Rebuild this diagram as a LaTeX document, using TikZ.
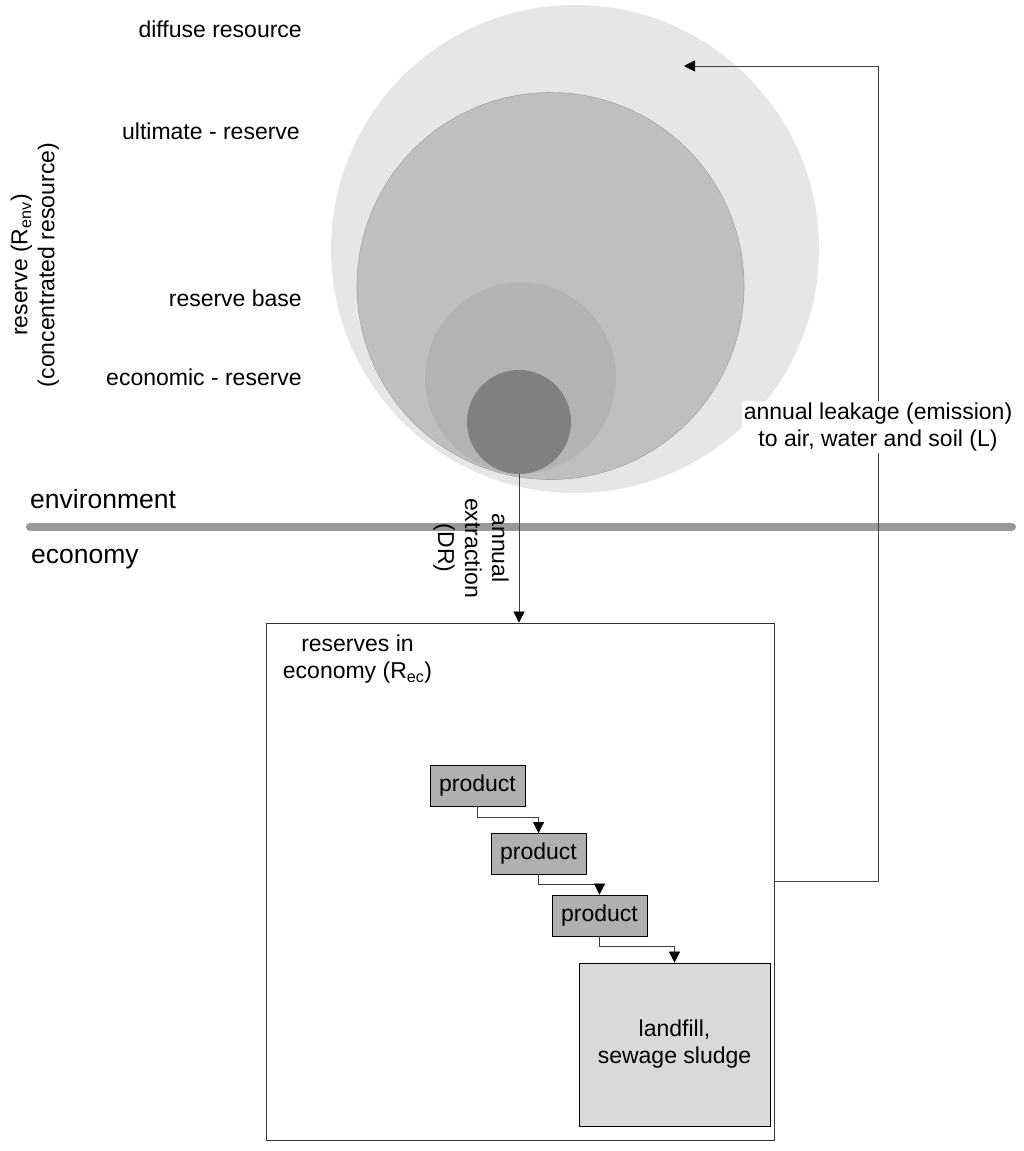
\documentclass[tikz,border=0pt]{standalone}
\usepackage{fontspec}
\setmainfont{Liberation Sans}
\usetikzlibrary{arrows.meta}
\newcommand{\fnorm}{\fontsize{23}{27}\selectfont}
\newcommand{\fbig}{\fontsize{26.5}{30}\selectfont}
\definecolor{diffc}{HTML}{E6E6E6}
\definecolor{ultc}{HTML}{BFBFBF}
\definecolor{basec}{HTML}{B3B3B3}
\definecolor{econc}{HTML}{808080}
\definecolor{prodc}{HTML}{B0B0B0}
\definecolor{landc}{HTML}{D9D9D9}
\definecolor{linec}{HTML}{999999}
\tikzset{
  every node/.style={font=\fnorm, inner sep=0pt},
  ring/.style={circle, inner sep=0pt, draw=none},
  lbl/.style={anchor=base east},
  prodbox/.style={draw=black, line width=0.8pt, fill=prodc, minimum width=95pt, minimum height=41pt},
  flow/.style={line width=0.7pt, draw=black!75, -{Triangle[width=11pt,length=11pt,color=black]}},
}
\begin{document}
\begin{tikzpicture}[x=1pt,y=-1pt]
\useasboundingbox[fill=white] (0,0) rectangle (1024,1151);
% circles
\node[ring, fill=diffc, minimum size=488pt] (diffuse) at (575,249) {};
\node[ring, fill=ultc, draw=black!35, line width=0.6pt, minimum size=387pt] (ultimate) at (550.5,286) {};
\node[ring, fill=basec, minimum size=191pt] (base) at (520.5,378) {};
\node[ring, fill=econc, minimum size=104pt] (econ) at (519,422) {};
% left labels
\node[lbl] (ldiff) at (302,37) {diffuse resource};
\node[lbl] (lult) at (300,139) {ultimate - reserve};
\node[lbl] (lbase) at (302,306) {reserve base};
\node[lbl] (lecon) at (302,385) {economic - reserve};
\node[rotate=90, align=center] (lrenv) at (35,265) {reserve (R\textsubscript{env})\\(concentrated resource)};
% separator
\coordinate (sepL) at (30,527);
\coordinate (sepR) at (1012,527);
\draw[linec, line width=8pt, line cap=round] (sepL) -- (sepR);
\node[anchor=base west, font=\fbig] (envlbl) at (30,508) {environment};
\node[anchor=base west, font=\fbig] (ecolbl) at (31,563) {economy};
% economy box
\node[draw=black!80, line width=0.8pt, minimum width=508pt, minimum height=517pt] (rec) at (520,881.5) {};
\node[align=center] (reclbl) at (357.5,659) {reserves in\\economy (R\textsubscript{ec})};
% extraction arrow
\draw[flow] (econ.south) -- (econ.south |- rec.north);
\node[rotate=-90, align=center] (extr) at (471,548) {annual\\extraction\\(DR)};
% products
\node[prodbox] (p1) at (477.5,785.5) {product};
\node[prodbox] (p2) at (538.5,854) {product};
\node[prodbox] (p3) at (599.5,915.5) {product};
\node[draw=black, line width=0.8pt, fill=landc, minimum width=191pt, minimum height=163pt, align=center] (land) at (674.5,1044.5) {landfill,\\sewage sludge};
\draw[flow] (p1.south) |- (538.5,817) -- (p2.north);
\draw[flow] (p2.south) |- (599.5,884) -- (p3.north);
\draw[flow] (p3.south) |- (674.5,946) -- (land.north);
% leakage
\coordinate (leaktip) at (684,66);
\coordinate (leakc1) at (878,881);
\coordinate (leakc2) at (878,66);
\draw[flow] (rec.east |- leakc1) -- (leakc1) -- (leakc2) -- (leaktip);
\node[fill=white, inner sep=2pt, align=center] (leaklbl) at (878,427) {annual leakage (emission)\\to air, water and soil (L)};
\end{tikzpicture}
\end{document}
